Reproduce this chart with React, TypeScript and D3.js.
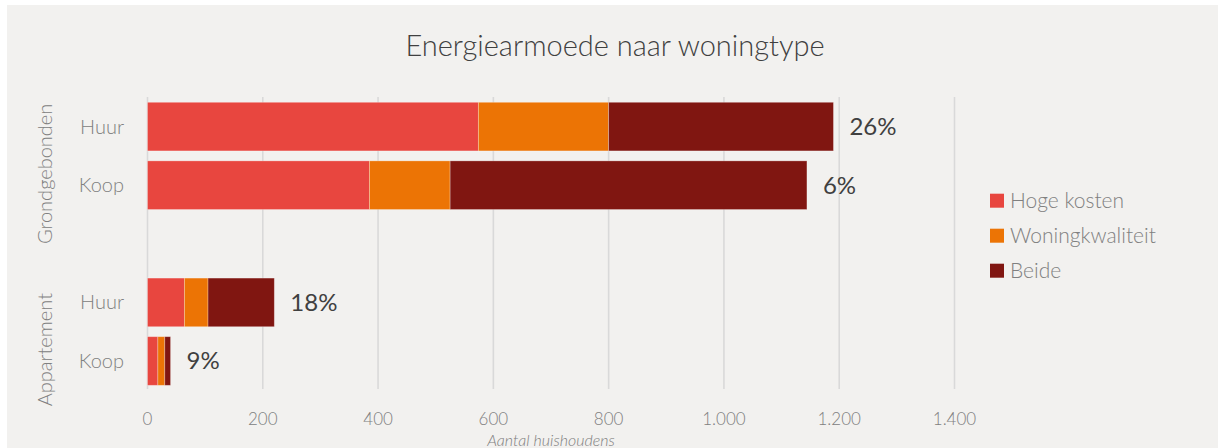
import React from "react";
import * as d3 from "d3";

const groups = ["Grondgebonden", "Appartement"];
const rows = [
  { group: "Grondgebonden", type: "Huur" },
  { group: "Grondgebonden", type: "Koop" },
  { group: "Appartement", type: "Huur" },
  { group: "Appartement", type: "Koop" },
];
const seriesNames = ["Hoge kosten", "Woningkwaliteit", "Beide"];
const hogeKosten = [574, 385, 64, 18];
const woningkwaliteit = [226, 140, 41, 12];
const beide = [390, 619, 115, 10];
const percentLabels = ["26%", "6%", "18%", "9%"];
const xTicks = [0, 200, 400, 600, 800, 1000, 1200, 1400];
const colors = ["#e8463f", "#ec7405", "#801611"];

const W = 1218;
const H = 448;
const FONT = "Lato, 'Open Sans', sans-serif";

export default function App() {
  const x = d3.scaleLinear().domain([0, 1400]).range([147.5, 954.5]);
  const bandKeys = ["0", "1", "gap", "2", "3"];
  const y = d3.scaleBand<string>().domain(bandKeys).range([97.3, 390.3]).paddingInner(0.17).paddingOuter(0.085);
  const rowKey = (i: number) => String(i);

  const table = rows.map((r, i) => ({
    key: rowKey(i),
    "Hoge kosten": hogeKosten[i],
    Woningkwaliteit: woningkwaliteit[i],
    Beide: beide[i],
  }));
  const stack = d3.stack<any>().keys(seriesNames)(table);
  const fmt = (v: number) => d3.format(",")(v).replace(/,/g, ".");

  const groupCenters = groups.map((g) => {
    const idx = rows.map((r, i) => (r.group === g ? i : -1)).filter((i) => i >= 0);
    const ys = idx.map((i) => (y(rowKey(i)) as number) + y.bandwidth() / 2);
    return (d3.min(ys)! + d3.max(ys)!) / 2 + 18;
  });

  return (
    <svg width={W} height={H} style={{ position: "absolute", left: 0, top: 0 }} fontFamily={FONT}>
      <rect x={7} y={5} width={W - 7} height={H - 5} fill="#f2f1ef" />
      <text x={615} y={56} textAnchor="middle" fontSize={29} fontWeight={300} fill="#404040">
        Energiearmoede naar woningtype
      </text>
      {xTicks.map((t) => (
        <line key={t} x1={x(t)} x2={x(t)} y1={97} y2={389} stroke="#d9d9d9" strokeWidth={1.6} />
      ))}
      {stack.map((s, si) => (
        <g key={s.key} fill={colors[si]}>
          {s.map((d, i) => (
            <rect
              key={i}
              x={x(d[0])}
              width={x(d[1]) - x(d[0])}
              y={y(rowKey(i))}
              height={y.bandwidth()}
              stroke="#ffffff"
              strokeOpacity={0.35}
              strokeWidth={0.8}
            />
          ))}
        </g>
      ))}
      {rows.map((r, i) => {
        const total = hogeKosten[i] + woningkwaliteit[i] + beide[i];
        return (
          <text
            key={i}
            x={x(total) + 16}
            y={(y(rowKey(i)) as number) + y.bandwidth() / 2}
            dy="0.35em"
            fontSize={24}
            fill="#404040"
          >
            {percentLabels[i]}
          </text>
        );
      })}
      {rows.map((r, i) => (
        <text
          key={i}
          x={124}
          y={(y(rowKey(i)) as number) + y.bandwidth() / 2}
          dy="0.35em"
          textAnchor="end"
          fontSize={20}
          fontWeight={300}
          fill="#808080"
        >
          {r.type}
        </text>
      ))}
      {groups.map((g, gi) => (
        <text
          key={g}
          transform={`translate(${52},${groupCenters[gi]}) rotate(-90)`}
          textAnchor="middle"
          fontSize={20}
          fontWeight={300}
          fill="#808080"
        >
          {g}
        </text>
      ))}
      {xTicks.map((t) => (
        <text key={t} x={x(t)} y={425} textAnchor="middle" fontSize={17} fontWeight={300} fill="#808080">
          {fmt(t)}
        </text>
      ))}
      <text x={551} y={446} textAnchor="middle" fontSize={16} fontStyle="italic" fontWeight={300} fill="#808080">
        Aantal huishoudens
      </text>
      {seriesNames.map((n, i) => (
        <g key={n} transform={`translate(990,${200.7 + i * 35})`}>
          <rect x={0} y={-7} width={14} height={14} fill={colors[i]} />
          <text x={20} y={0} dy="0.35em" fontSize={21} fontWeight={300} fill="#808080">
            {n}
          </text>
        </g>
      ))}
    </svg>
  );
}
